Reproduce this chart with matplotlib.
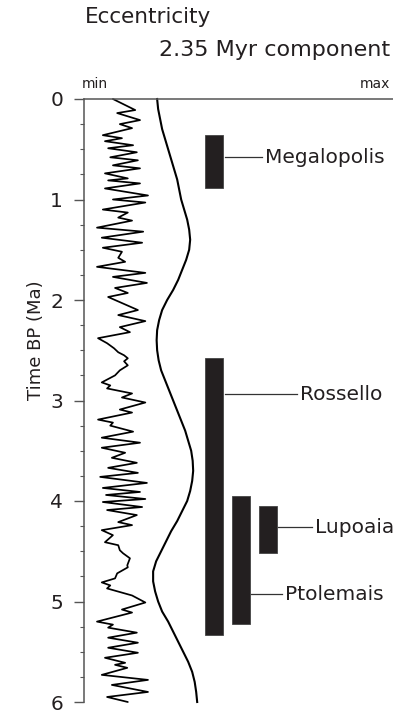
import matplotlib
matplotlib.use("Agg")
import matplotlib.pyplot as plt
import numpy as np

# eccentricity (age in Ma, relative value 0 = min, 1 = max)
ecc_age = [
    0.00, 0.11, 0.14, 0.21, 0.25, 0.29, 0.36, 0.39, 0.42, 0.46,
    0.49, 0.53, 0.58, 0.61, 0.66, 0.69, 0.74, 0.79, 0.81, 0.84,
    0.89, 0.96, 1.00, 1.03, 1.10, 1.13, 1.18, 1.21, 1.28, 1.32,
    1.38, 1.43, 1.48, 1.52, 1.58, 1.62, 1.67, 1.73, 1.77, 1.83,
    1.88, 1.93, 1.97, 2.10, 2.15, 2.21, 2.27, 2.32, 2.38, 2.43,
    2.48, 2.52, 2.55, 2.58, 2.61, 2.65, 2.70, 2.75, 2.82, 2.85,
    2.88, 2.93, 2.97, 3.02, 3.09, 3.12, 3.19, 3.22, 3.25, 3.31,
    3.37, 3.42, 3.47, 3.52, 3.57, 3.62, 3.67, 3.72, 3.76, 3.82,
    3.87, 3.91, 3.94, 3.98, 4.01, 4.06, 4.09, 4.14, 4.21, 4.24,
    4.29, 4.34, 4.41, 4.44, 4.49, 4.52, 4.57, 4.64, 4.66, 4.72,
    4.77, 4.81, 4.84, 4.87, 4.94, 5.01, 5.08, 5.11, 5.20, 5.23,
    5.26, 5.31, 5.36, 5.41, 5.46, 5.51, 5.56, 5.61, 5.63, 5.66,
    5.73, 5.78, 5.83, 5.90, 5.95, 6.00,
]
ecc_rel = [
    0.30, 0.72, 0.38, 0.81, 0.43, 0.66, 0.11, 0.47, 0.15, 0.68,
    0.21, 0.75, 0.25, 0.77, 0.30, 0.81, 0.15, 0.58, 0.21, 0.81,
    0.15, 0.96, 0.30, 0.91, 0.11, 0.58, 0.40, 0.66, 0.00, 0.87,
    0.09, 0.85, 0.11, 0.47, 0.40, 0.53, 0.00, 0.91, 0.30, 0.94,
    0.34, 0.58, 0.21, 0.77, 0.40, 0.91, 0.43, 0.62, 0.02, 0.19,
    0.32, 0.40, 0.51, 0.58, 0.51, 0.58, 0.43, 0.34, 0.09, 0.25,
    0.19, 0.66, 0.47, 0.91, 0.43, 0.66, 0.02, 0.30, 0.25, 0.68,
    0.09, 0.81, 0.09, 0.53, 0.28, 0.75, 0.21, 0.77, 0.06, 0.94,
    0.11, 0.81, 0.17, 0.91, 0.11, 0.85, 0.19, 0.75, 0.40, 0.66,
    0.09, 0.30, 0.15, 0.40, 0.43, 0.49, 0.62, 0.57, 0.58, 0.38,
    0.34, 0.09, 0.25, 0.19, 0.66, 0.91, 0.47, 0.66, 0.00, 0.30,
    0.21, 0.75, 0.21, 0.77, 0.21, 0.77, 0.15, 0.53, 0.34, 0.57,
    0.09, 0.96, 0.28, 0.96, 0.19, 0.58,
]

# 2.35 Myr component (relative)
comp_age = [
    0.0, 0.1, 0.2, 0.3, 0.4, 0.5, 0.6, 0.7, 0.8, 0.9,
    1.0, 1.1, 1.2, 1.3, 1.4, 1.5, 1.6, 1.7, 1.8, 1.9,
    2.0, 2.1, 2.2, 2.3, 2.4, 2.5, 2.6, 2.7, 2.8, 2.9,
    3.0, 3.1, 3.2, 3.3, 3.4, 3.5, 3.6, 3.7, 3.8, 3.9,
    4.0, 4.1, 4.2, 4.3, 4.4, 4.5, 4.6, 4.7, 4.8, 4.9,
    5.0, 5.1, 5.2, 5.3, 5.4, 5.5, 5.6, 5.7, 5.8, 5.9,
    6.0,
]
comp_rel = [
    0.14, 0.16, 0.20, 0.24, 0.30, 0.36, 0.42, 0.48, 0.54, 0.58,
    0.62, 0.68, 0.74, 0.78, 0.80, 0.78, 0.72, 0.64, 0.56, 0.46,
    0.34, 0.24, 0.18, 0.14, 0.13, 0.14, 0.17, 0.22, 0.30, 0.38,
    0.46, 0.54, 0.62, 0.70, 0.76, 0.82, 0.85, 0.86, 0.84, 0.80,
    0.74, 0.64, 0.54, 0.42, 0.32, 0.22, 0.12, 0.06, 0.06, 0.10,
    0.16, 0.24, 0.36, 0.46, 0.56, 0.66, 0.76, 0.84, 0.89, 0.92,
    0.94,
]

# sections (age range in Ma) and where their labels point
sites = ["Megalopolis", "Rossello", "Ptolemais", "Lupoaia"]
site_top = [0.36, 2.58, 3.95, 4.05]
site_bottom = [0.89, 5.33, 5.22, 4.52]
label_age = [0.58, 2.94, 4.93, 4.26]

# layout (axes fraction across the track)
ecc_x0, ecc_w = 0.042, 0.172
comp_x0, comp_w = 0.214, 0.162
bar_x = [0.421, 0.421, 0.508, 0.594]
bar_w = 0.058
leader_end = [0.576, 0.689, 0.641, 0.738]

ink = "#231f20"
W, H = 393, 713
fig = plt.figure(figsize=(W / 100, H / 100), dpi=100)
ax = fig.add_axes([84 / W, 11 / H, 309 / W, 603 / H])

ax.plot(ecc_x0 + ecc_w * np.array(ecc_rel), ecc_age, color="black", lw=1.25,
        solid_joinstyle="round", solid_capstyle="round", clip_on=False)
ax.plot(comp_x0 + comp_w * np.array(comp_rel), comp_age, color="black", lw=1.5,
        clip_on=False)

heights = np.array(site_bottom) - np.array(site_top)
ax.bar(bar_x, heights, bottom=site_top, width=bar_w, color=ink, edgecolor="#444", lw=0.6)

for i, name in enumerate(sites):
    x0 = bar_x[i] + bar_w / 2 + 0.005
    ax.plot([x0, leader_end[i]], [label_age[i]] * 2, color="#333", lw=0.9)
    ax.text(leader_end[i] + 0.01, label_age[i], name, fontsize=14.5, color=ink,
            va="center", ha="left")

ax.set_xlim(0, 1)
ax.set_ylim(6, 0)
ax.set_yticks(range(7))
ax.set_yticks(np.arange(0, 6.01, 0.25), minor=True)
ax.tick_params(axis="y", which="major", length=7, width=1, color="#555",
               labelsize=14.5, labelcolor=ink, pad=8)
ax.tick_params(axis="y", which="minor", length=3, width=0.8, color="#555")
ax.set_xticks([])
for s in ["right", "bottom"]:
    ax.spines[s].set_visible(False)
for s in ["left", "top"]:
    ax.spines[s].set_color("#555")
    ax.spines[s].set_linewidth(1.1)

fig.text(36 / W, 1 - 340 / H, "Time BP (Ma)", rotation=90, fontsize=13,
         color=ink, ha="center", va="center")
fig.text(85 / W, 1 - 17 / H, "Eccentricity", fontsize=15.5, color=ink,
         ha="left", va="center")
fig.text(390 / W, 1 - 50 / H, "2.35 Myr component", fontsize=16, color=ink,
         ha="right", va="center")
fig.text(82 / W, 1 - 84 / H, "min", fontsize=10, color=ink, ha="left", va="center")
fig.text(390 / W, 1 - 84 / H, "max", fontsize=10, color=ink, ha="right", va="center")

fig.savefig("out.png", dpi=100)
